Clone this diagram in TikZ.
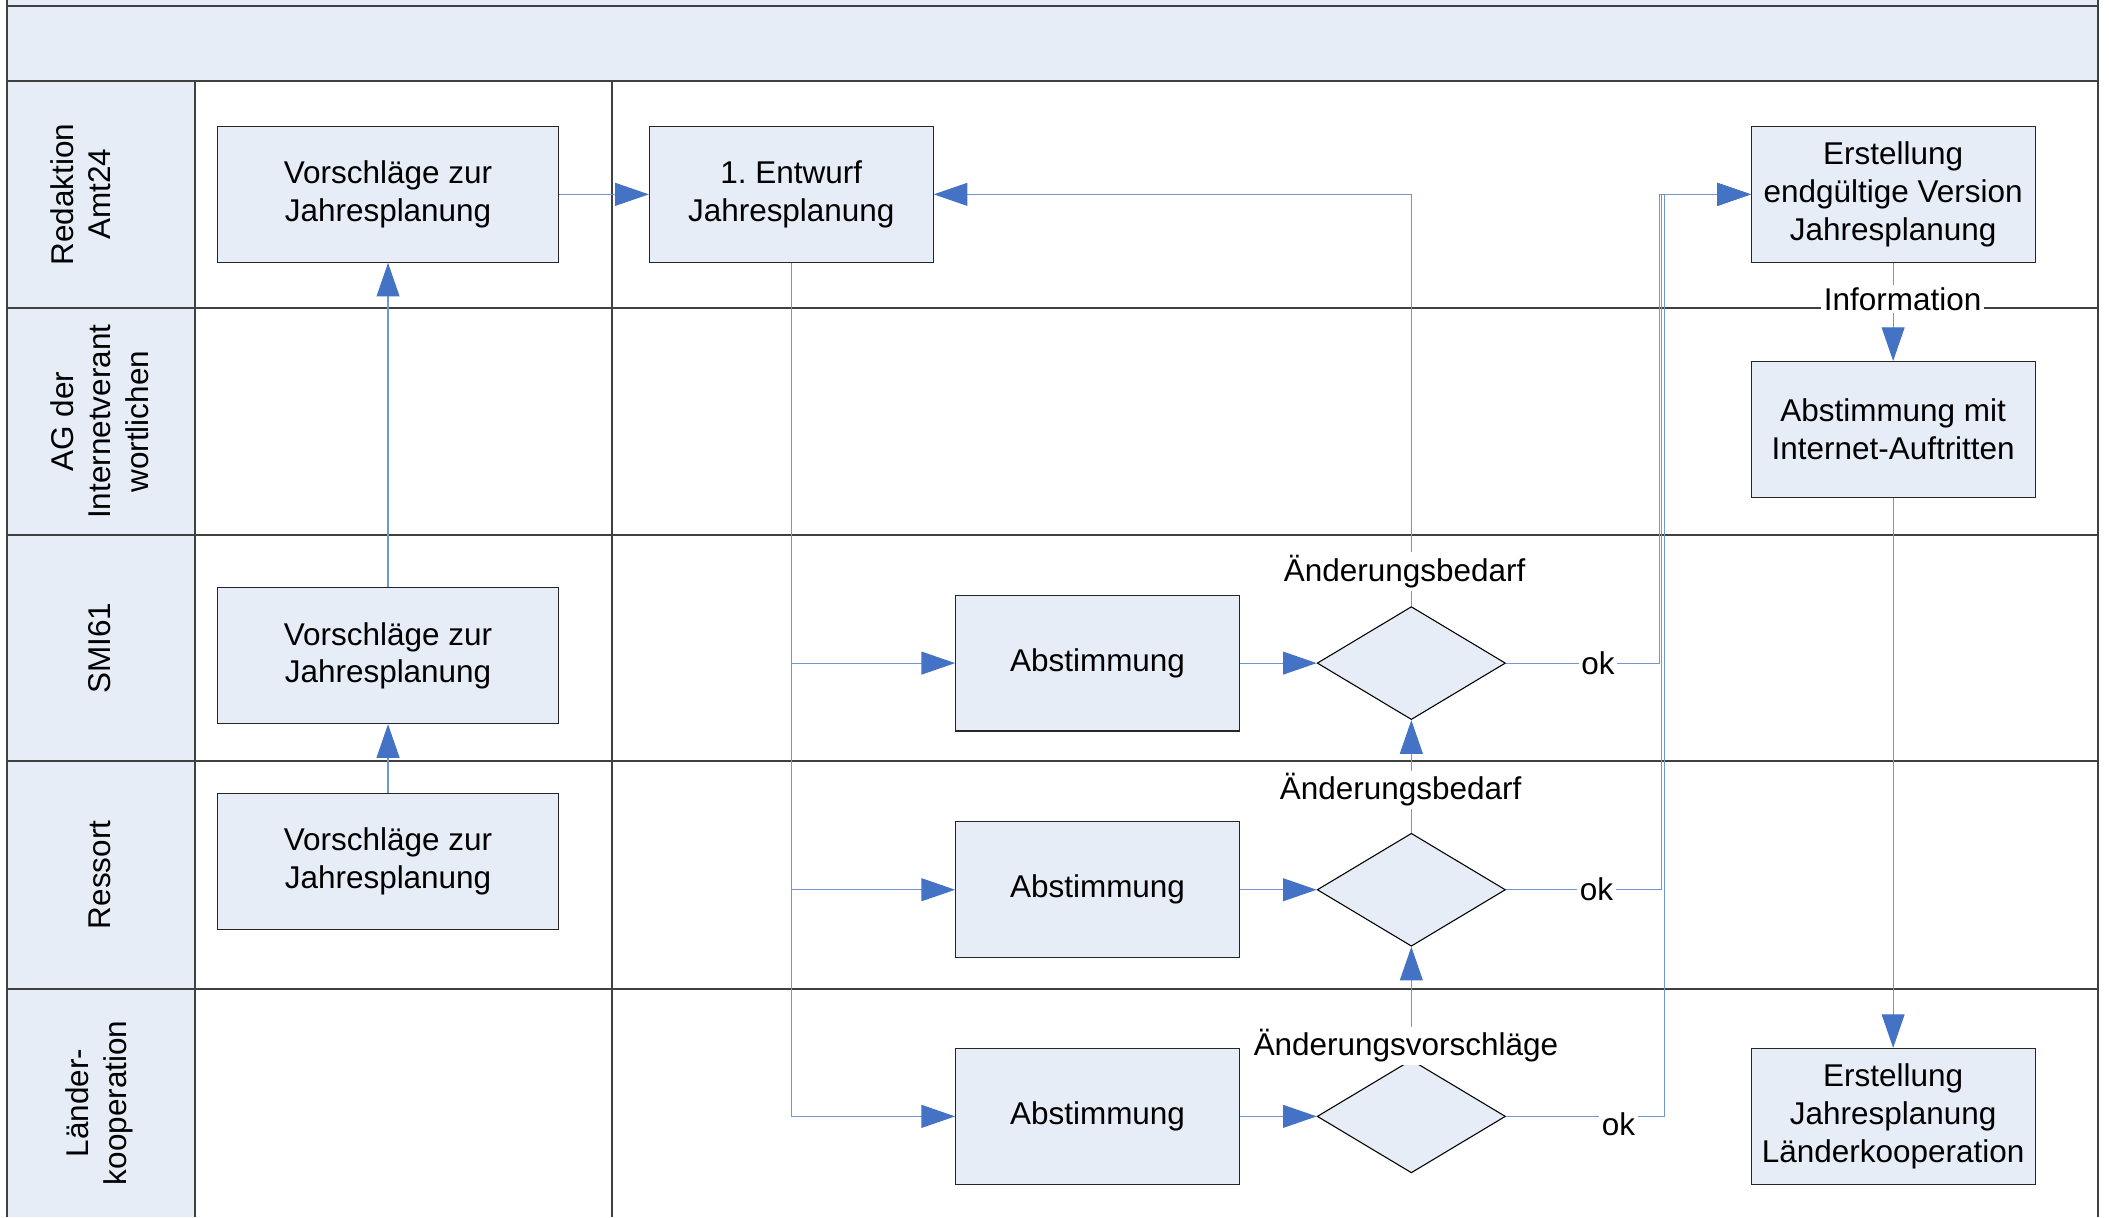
\documentclass[tikz,border=0pt]{standalone}
\usepackage{fontspec}
\setmainfont{Liberation Sans}
\usetikzlibrary{arrows.meta,positioning,shapes.geometric}
\frenchspacing

\definecolor{paleblue}{HTML}{E6EDF7}
\definecolor{flowblue}{HTML}{6F97D6}
\definecolor{tipblue}{HTML}{4472C4}
\definecolor{laneline}{HTML}{404040}

\tikzset{
    stepbox/.style={rectangle, draw=black!85, fill=paleblue, line width=0.4pt, align=center, minimum height=50.5pt, inner sep=2pt},
    widebox/.style={stepbox, minimum width=126.5pt},
    slimbox/.style={stepbox, minimum width=105.5pt},
    check/.style={diamond, draw=black, fill=paleblue, line width=0.4pt, minimum width=70pt, minimum height=42pt, inner sep=0pt},
    flow/.style={draw=flowblue, line width=0.45pt, -{Triangle[length=12.5pt,width=8.5pt,color=tipblue]}},
    tag/.style={fill=white, inner sep=1pt},
    lanename/.style={rotate=90, align=center},
    lane/.style={draw=laneline, line width=0.75pt}
}

\begin{document}
\begin{tikzpicture}[
        x=0.5pt, y=-0.5pt,
        node distance=33.5pt,
        font=\fontsize{11.7}{14}\selectfont
    ]
    \useasboundingbox (0,0) rectangle (1568,905);

    % swimlanes
    \fill[paleblue] (5,0) rectangle (1560,60);
    \fill[paleblue] (5,60) rectangle (145,905);
    \draw[lane] (5,4.5) -- (1560,4.5);
    \foreach \y in {60,229,398,566,735}
        \draw[lane] (5,\y) -- (1560,\y);
    \draw[lane] (5,0) -- (5,905) (1560,0) -- (1560,905);
    \draw[draw=laneline, line width=0.45pt] (145,60) -- (145,905) (455,60) -- (455,905);

    \node[lanename] (redaktion) at (60,144.5) {Redaktion\\Amt24};
    \node[lanename] (ag) at (74,313.5) {AG der\\Internetverant\\wortlichen};
    \node[lanename] (smi) at (74,482) {SMI61};
    \node[lanename] (ressort) at (74,650.5) {Ressort};
    \node[lanename] (laender) at (74,820) {Länder-\\kooperation};

    % steps
    \node[widebox] (v1) at (288.5,144.5) {Vorschläge zur\\Jahresplanung};
    \node[slimbox] (e1) [right=of v1] {1. Entwurf\\Jahresplanung};
    \node[widebox] (v2) at (288.5,487.5) {Vorschläge zur\\Jahresplanung};
    \node[widebox] (v3) [below=25.5pt of v2] {Vorschläge zur\\Jahresplanung};

    \node[slimbox] (a1) at (816,493) {Abstimmung};
    \node[slimbox] (a2) at (816,661.5) {Abstimmung};
    \node[slimbox] (a3) at (816,830) {Abstimmung};
    \node[check] (d1) [right=28.5pt of a1] {};
    \node[check] (d2) [right=28.5pt of a2] {};
    \node[check] (d3) [right=28.5pt of a3] {};

    \node[slimbox] (ev) at (1407.5,144.5) {Erstellung\\endgültige Version\\Jahresplanung};
    \node[slimbox] (ai) [below=36.5pt of ev] {Abstimmung mit\\Internet-Auftritten};
    \node[slimbox] (lk) at (1407.5,830) {Erstellung\\Jahresplanung\\Länderkooperation};

    \coordinate (bus1) at (1233.5,144.5);
    \coordinate (bus2) at (1235.5,144.5);
    \coordinate (bus3) at (1237.5,144.5);

    % connectors
    \draw[flow] (v1) -- (e1);
    \draw[flow] (v2) -- (v1);
    \draw[flow] (v3) -- (v2);
    \draw[flow] (e1.south) |- (a3);
    \draw[flow] (e1.south |- a1) -- (a1);
    \draw[flow] (e1.south |- a2) -- (a2);
    \draw[flow] (a1) -- (d1);
    \draw[flow] (a2) -- (d2);
    \draw[flow] (a3) -- (d3);
    \draw[flow] (d1.north) |- node[tag, pos=.042, xshift=-2.5pt] {Änderungsbedarf} (e1.east);
    \draw[flow] (d2.north) -- node[tag, pos=.38, xshift=-4pt] {Änderungsbedarf} (d1.south);
    \draw[flow] (d3.north) -- node[tag, pos=.12, xshift=-2pt] {Änderungsvorschläge} (d2.south);
    \draw[flow] (d1.east) -- node[tag, pos=.6] {ok} (bus1 |- d1.east) -- (bus1) -- (ev.west);
    \draw[flow] (d2.east) -- node[tag, pos=.58] {ok} (bus2 |- d2.east) -- (bus2) -- (ev.west);
    \draw[flow] (d3.east) -- node[tag, pos=.71, yshift=-3pt] {ok} (bus3 |- d3.east) -- (bus3) -- (ev.west);
    \draw[flow] (ev) -- node[tag, pos=.37, xshift=3.5pt] {Information} (ai);
    \draw[flow] (ai) -- (lk);
\end{tikzpicture}
\end{document}
